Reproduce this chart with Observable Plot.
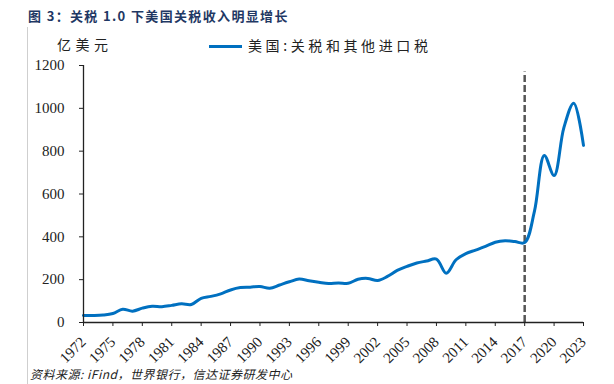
<!DOCTYPE html>
<html>
<head>
<meta charset="utf-8">
<script src="https://cdn.jsdelivr.net/npm/d3@7"></script>
<script src="https://cdn.jsdelivr.net/npm/@observablehq/plot@0.6"></script>
<style>
  html, body { margin: 0; padding: 0; background: #fff; overflow: hidden; }
  #wrap { position: relative; width: 614px; height: 384px; }
  #chart { position: absolute; left: 0; top: 0; }
  .abs { position: absolute; white-space: nowrap; }
  #title { left: 28px; top: 6px; font: bold 13px "Noto Sans CJK SC", sans-serif; color: #1f3864; letter-spacing: 1.35px; }
  #unit { left: 57px; top: 34px; font: 14px "Noto Sans CJK SC", sans-serif; color: #222; letter-spacing: 4.5px; }
  #legend { left: 209px; top: 35px; font: 14px "Noto Sans CJK SC", sans-serif; color: #222; letter-spacing: 3.6px; }
  #legend .sw { display: inline-block; width: 33px; height: 3px; background: #0070c0; vertical-align: middle; margin-right: 6px; position: relative; top: -1px; }
  #frame { left: 27px; top: 27px; width: 0; height: 360px; border-left: 1px solid #cfcfcf; }
  #caption { left: 30px; top: 366px; font: italic 12px/16px "Noto Sans CJK SC", sans-serif; color: #222; letter-spacing: 0.5px; }
</style>
</head>
<body>
<div id="wrap">
  <div id="chart"></div>
  <div class="abs" id="frame"></div>
  <div class="abs" id="title">图 3：关税 1.0 下美国关税收入明显增长</div>
  <div class="abs" id="unit">亿美元</div>
  <div class="abs" id="legend"><span class="sw"></span>美国:关税和其他进口税</div>
  <div class="abs" id="caption">资料来源: iFind，世界银行，信达证券研发中心</div>
</div>
<script>
const years = d3.range(1972, 2024);
const tariffs = [
  33, 33, 35, 42, 62, 53, 67, 76, 74, 80,
  87, 84, 113, 122, 134, 152, 163, 165, 168, 160,
  175, 190, 203, 195, 188, 182, 185, 183, 202, 206,
  196, 215, 243, 262, 278, 287, 296, 230, 293, 322,
  338, 355, 375, 382, 378, 373, 520, 780, 686, 910,
  1024, 827
];
const xTicks = d3.range(1972, 2024, 3);
const yTicks = [0, 200, 400, 600, 800, 1000, 1200];
const markerYear = 2017;
const markerTop = 1170;

const data = years.map((y, i) => ({year: y, value: tariffs[i]}));

const chart = Plot.plot({
  width: 614,
  height: 384,
  marginLeft: 83,
  marginRight: 31,
  marginTop: 65,
  marginBottom: 62,
  x: {domain: [1972, 2023]},
  y: {domain: [0, 1200]},
  style: {fontFamily: "'Liberation Serif', serif", fontSize: "15px", color: "#222", background: "transparent"},
  marks: [
    Plot.axisY({ticks: yTicks, tickSize: 4, tickPadding: 15, tickFormat: d => String(d), label: null, fontSize: 15}),
    Plot.axisX({ticks: xTicks, tickSize: 4, tickPadding: 13, tickRotate: -45, tickFormat: d => String(d), label: null, fontSize: 15}),
    Plot.ruleX([markerYear], {y1: 0, y2: markerTop, stroke: "#555", strokeWidth: 2.5, strokeDasharray: "7,3"}),
    Plot.line(data, {x: "year", y: "value", stroke: "#0070c0", strokeWidth: 3, curve: "catmull-rom"}),
    Plot.ruleX([1972], {y1: 0, y2: 1200, stroke: "#222", strokeWidth: 1.3}),
    Plot.ruleY([0], {x1: 1972, x2: 2023, stroke: "#222", strokeWidth: 1.3})
  ]
});
document.getElementById("chart").appendChild(chart);
</script>
</body>
</html>
